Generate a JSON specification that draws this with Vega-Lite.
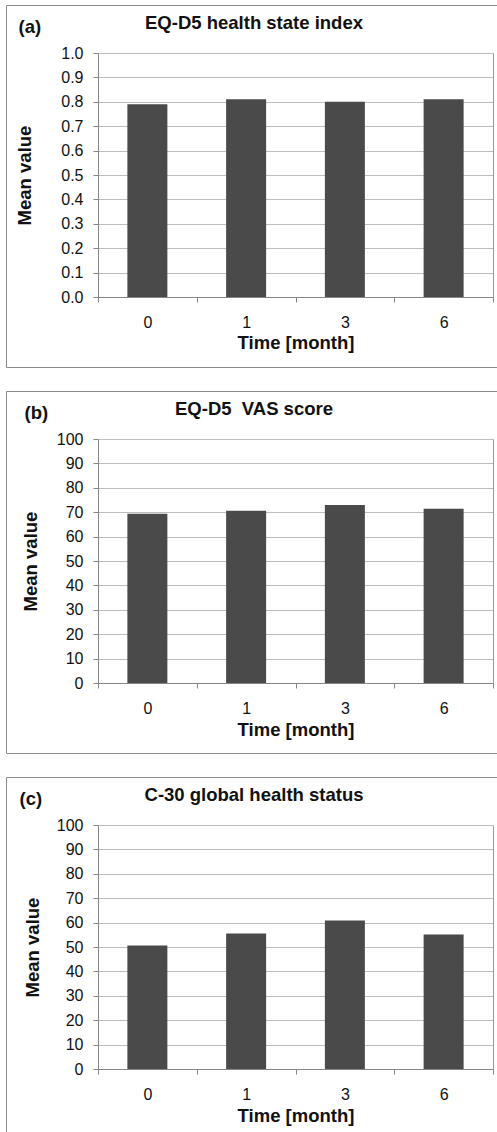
{
  "$schema": "https://vega.github.io/schema/vega-lite/v6.json",
  "background": "white",
  "padding": {"left": 5, "top": 4, "right": 0, "bottom": 0},
  "spacing": 22,
  "config": {
    "font": "Liberation Sans",
    "view": {"stroke": "#8c8c8c", "strokeWidth": 1},
    "title": {"font": "Liberation Sans", "fontSize": 18.5, "fontWeight": "bold", "color": "#111111", "anchor": "middle", "frame": "group", "baseline": "alphabetic", "offset": -27, "dx": 0.5},
    "axis": {
      "labelFont": "Liberation Sans", "labelFontSize": 16, "labelColor": "#111111",
      "titleFont": "Liberation Sans", "titleFontSize": 18.5, "titleFontWeight": "bold", "titleColor": "#111111",
      "domainColor": "#868686", "tickColor": "#868686", "gridColor": "#bdbdbd", "tickSize": 5
    },
    "bar": {"color": "#4a4a4a"}
  },
  "vconcat": [
    {
      "width": 495, "height": 362,
      "title": {"text": "EQ-D5 health state index"},
      "data": {"values": [
        {"month": 0, "mean": 0.79},
        {"month": 1, "mean": 0.81},
        {"month": 3, "mean": 0.80},
        {"month": 6, "mean": 0.81}
      ]},
      "layer": [
        {
          "mark": {"type": "bar", "width": {"band": 0.405}},
          "encoding": {
            "x": {"field": "month", "type": "ordinal",
              "scale": {"range": [92, 487], "paddingInner": 0, "paddingOuter": 0},
              "axis": {"orient": "bottom", "offset": -70, "title": "Time [month]", "labelAngle": 0, "tickBand": "extent", "grid": false,
                "labelBaseline": "alphabetic", "labelPadding": 25, "titleBaseline": "alphabetic", "titlePadding": 18}},
            "y": {"field": "mean", "type": "quantitative",
              "scale": {"domain": [0, 1], "range": [292, 48], "nice": false},
              "axis": {"orient": "left", "offset": -92, "title": "Mean value", "values": [0, 0.1, 0.2, 0.3, 0.4, 0.5, 0.6, 0.7, 0.8, 0.9, 1.0], "format": ".1f",
                "grid": true, "labelPadding": 10, "titleBaseline": "alphabetic", "titlePadding": 30.5}}
          }
        },
        {
          "mark": {"type": "bar", "opacity": 0},
          "encoding": {
            "x": {"field": "month", "type": "ordinal",
              "axis": {"orient": "top", "domain": false, "ticks": false, "labels": false, "grid": false,
                "title": "(a)", "titleX": 12, "titleY": 27, "titleAnchor": "start", "titleAlign": "left", "titleBaseline": "alphabetic", "titleAngle": 0}},
            "y": {"field": "mean", "type": "quantitative",
              "axis": {"orient": "right", "offset": -8, "labels": false, "ticks": false, "grid": false, "title": null, "domainColor": "#9a9a9a"}}
          }
        }
      ],
      "resolve": {"axis": {"x": "independent", "y": "independent"}}
    },
    {
      "width": 495, "height": 362,
      "title": {"text": "EQ-D5 \u00a0VAS score"},
      "data": {"values": [
        {"month": 0, "mean": 69.4},
        {"month": 1, "mean": 70.6},
        {"month": 3, "mean": 73.0},
        {"month": 6, "mean": 71.4}
      ]},
      "layer": [
        {
          "mark": {"type": "bar", "width": {"band": 0.405}},
          "encoding": {
            "x": {"field": "month", "type": "ordinal",
              "scale": {"range": [92, 487], "paddingInner": 0, "paddingOuter": 0},
              "axis": {"orient": "bottom", "offset": -70, "title": "Time [month]", "labelAngle": 0, "tickBand": "extent", "grid": false,
                "labelBaseline": "alphabetic", "labelPadding": 25, "titleBaseline": "alphabetic", "titlePadding": 19}},
            "y": {"field": "mean", "type": "quantitative",
              "scale": {"domain": [0, 100], "range": [292, 48], "nice": false},
              "axis": {"orient": "left", "offset": -92, "title": "Mean value", "values": [0, 10, 20, 30, 40, 50, 60, 70, 80, 90, 100],
                "grid": true, "labelPadding": 10, "titleBaseline": "alphabetic", "titlePadding": 19.5}}
          }
        },
        {
          "mark": {"type": "bar", "opacity": 0},
          "encoding": {
            "x": {"field": "month", "type": "ordinal",
              "axis": {"orient": "top", "domain": false, "ticks": false, "labels": false, "grid": false,
                "title": "(b)", "titleX": 18, "titleY": 27, "titleAnchor": "start", "titleAlign": "left", "titleBaseline": "alphabetic", "titleAngle": 0}},
            "y": {"field": "mean", "type": "quantitative",
              "axis": {"orient": "right", "offset": -8, "labels": false, "ticks": false, "grid": false, "title": null, "domainColor": "#9a9a9a"}}
          }
        }
      ],
      "resolve": {"axis": {"x": "independent", "y": "independent"}}
    },
    {
      "width": 495, "height": 362,
      "title": {"text": "C-30 global health status"},
      "data": {"values": [
        {"month": 0, "mean": 50.6},
        {"month": 1, "mean": 55.5},
        {"month": 3, "mean": 60.9},
        {"month": 6, "mean": 55.1}
      ]},
      "layer": [
        {
          "mark": {"type": "bar", "width": {"band": 0.405}},
          "encoding": {
            "x": {"field": "month", "type": "ordinal",
              "scale": {"range": [92, 487], "paddingInner": 0, "paddingOuter": 0},
              "axis": {"orient": "bottom", "offset": -70, "title": "Time [month]", "labelAngle": 0, "tickBand": "extent", "grid": false,
                "labelBaseline": "alphabetic", "labelPadding": 25, "titleBaseline": "alphabetic", "titlePadding": 19}},
            "y": {"field": "mean", "type": "quantitative",
              "scale": {"domain": [0, 100], "range": [292, 48], "nice": false},
              "axis": {"orient": "left", "offset": -92, "title": "Mean value", "values": [0, 10, 20, 30, 40, 50, 60, 70, 80, 90, 100],
                "grid": true, "labelPadding": 10, "titleBaseline": "alphabetic", "titlePadding": 17.5}}
          }
        },
        {
          "mark": {"type": "bar", "opacity": 0},
          "encoding": {
            "x": {"field": "month", "type": "ordinal",
              "axis": {"orient": "top", "domain": false, "ticks": false, "labels": false, "grid": false,
                "title": "(c)", "titleX": 13, "titleY": 27, "titleAnchor": "start", "titleAlign": "left", "titleBaseline": "alphabetic", "titleAngle": 0}},
            "y": {"field": "mean", "type": "quantitative",
              "axis": {"orient": "right", "offset": -8, "labels": false, "ticks": false, "grid": false, "title": null, "domainColor": "#9a9a9a"}}
          }
        }
      ],
      "resolve": {"axis": {"x": "independent", "y": "independent"}}
    }
  ]
}
